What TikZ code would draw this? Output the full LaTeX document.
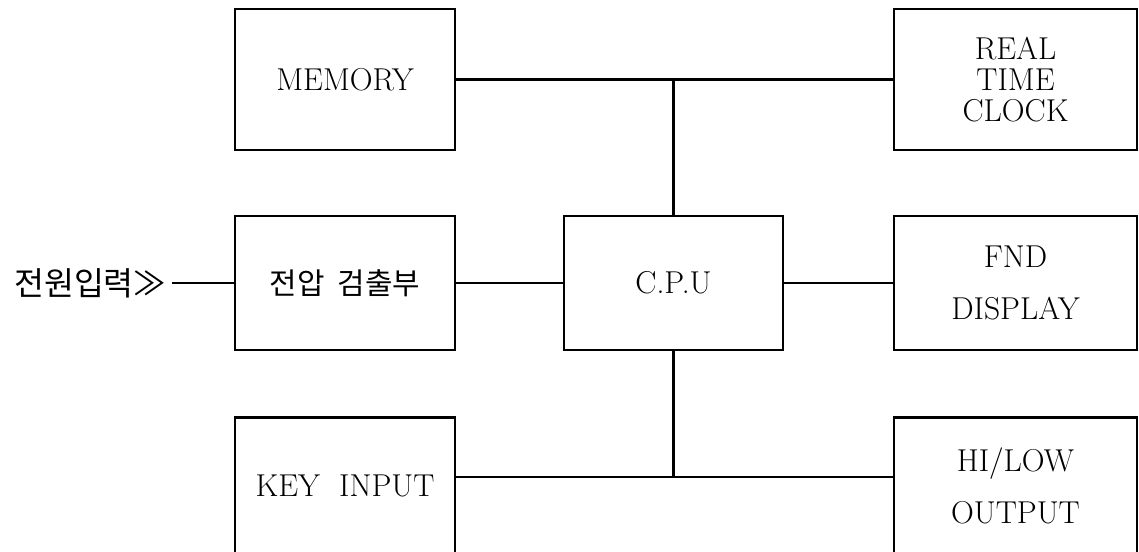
\documentclass[tikz,border=0pt]{standalone}
\usepackage{fontspec}
\newfontfamily\krfont{Noto Sans CJK KR}
\usetikzlibrary{positioning}

\tikzset{
  blockbox/.style={draw, line width=1.3pt, minimum width=4.4cm, minimum height=2.68cm,
    align=center, inner sep=0pt, font=\fontsize{18}{17.6}\selectfont},
  widebox/.style={blockbox, minimum width=4.86cm},
  wire/.style={line width=1.3pt}
}

\begin{document}
\begin{tikzpicture}[x=0.02cm, y=-0.02cm]
\useasboundingbox (0,0) rectangle (1139,551);

% Draw blocks
\node[blockbox, minimum height=2.82cm] (memory) at (345,79.5) {MEMORY};
\node[widebox, minimum height=2.82cm] (rtc) at (1015.5,79.5) {REAL\\TIME\\CLOCK};
\node[blockbox] (detect) at (345,283) {\krfont\fontsize{17}{18}\selectfont 전압\ \ 검출부};
\node[blockbox, minimum width=4.38cm] (cpu) at (673.5,283) {C.P.U};
\node[widebox] (fnd) at (1015.5,283) {FND\\[12pt]DISPLAY};
\node[blockbox, minimum height=2.74cm] (keyin) at (345,486) {KEY\ \ INPUT};
\node[widebox, minimum height=2.74cm] (hilow) at (1015.5,486) {HI/LOW\\[12pt]OUTPUT};

% Power input label
\node[anchor=east, inner sep=3pt, font=\krfont\fontsize{18.5}{20}\selectfont] (power) at (172,283) {전원입력≫};

% Draw connections
\coordinate (lowbus) at (673.5,477);
\draw[wire] (power.east) -- (detect.west);
\draw[wire] (detect.east) -- (cpu.west);
\draw[wire] (cpu.east) -- (fnd.west);
\draw[wire] (memory.east) -- (rtc.west);
\draw[wire] (cpu.north) -- (cpu.north |- memory.east);
\draw[wire] (cpu.south) -- (lowbus);
\draw[wire] (keyin.east |- lowbus) -- (hilow.west |- lowbus);

\end{tikzpicture}
\end{document}
